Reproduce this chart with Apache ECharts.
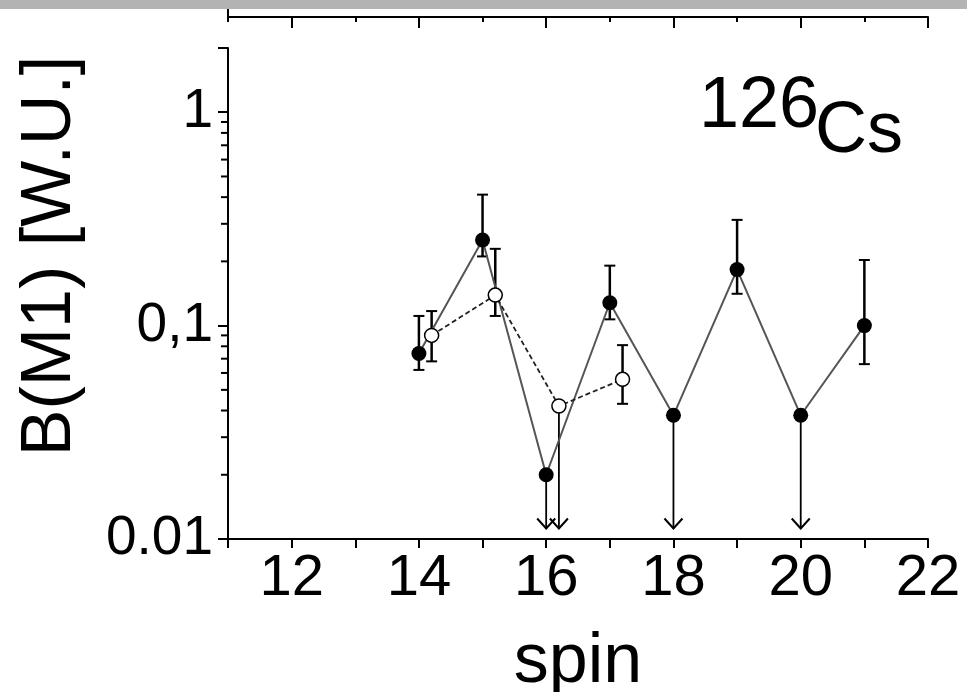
<!DOCTYPE html>
<html>
<head>
<meta charset="utf-8">
<style>
  html, body { margin: 0; padding: 0; background: #fff; }
  #chart { width: 967px; height: 692px; }
</style>
<script src="https://cdn.jsdelivr.net/npm/echarts@6/dist/echarts.min.js"></script>
</head>
<body>
<div id="chart"></div>
<script>
// ---- data ----
const spinFilled = [14, 15, 16, 17, 18, 19, 20, 21];
const bm1Filled  = [0.074, 0.252, 0.020, 0.128, 0.038, 0.183, 0.038, 0.100];
const errLowFilled  = [0.062, 0.211, null, 0.107, null, 0.141, null, 0.066];
const errHighFilled = [0.111, 0.411, null, 0.191, null, 0.313, null, 0.203];
const limitFilled   = [false, false, true, false, true, false, true, false];

const spinOpen = [14.2, 15.2, 16.2, 17.2];
const bm1Open  = [0.090, 0.139, 0.042, 0.056];
const errLowOpen  = [0.068, 0.111, null, 0.043];
const errHighOpen = [0.117, 0.229, null, 0.081];
const limitOpen   = [false, false, true, false];

const arrowTip = 0.0112;

const yTickValues = [0.01, 0.1, 1];
const yTickLabels = ['0.01', '0,1', '1'];
const yMinorTicks = [0.02, 0.03, 0.04, 0.05, 0.06, 0.07, 0.08, 0.09,
                     0.2, 0.3, 0.4, 0.5, 0.6, 0.7, 0.8, 0.9];
const xMin = 11, xMax = 22;

// ---- build series data ----
const FONT = "'Liberation Sans', Arial, sans-serif";
const filledPts = spinFilled.map((x, i) => [x, bm1Filled[i]]);
const openPts = spinOpen.map((x, i) => [x, bm1Open[i]]);

const errData = [];
const arrowData = [];
function collect(xs, ys, lo, hi, lim) {
  xs.forEach((x, i) => {
    if (lim[i]) arrowData.push([x, ys[i], arrowTip]);
    else errData.push([x, lo[i], hi[i]]);
  });
}
collect(spinFilled, bm1Filled, errLowFilled, errHighFilled, limitFilled);
collect(spinOpen, bm1Open, errLowOpen, errHighOpen, limitOpen);
const minorData = yMinorTicks.map(v => [xMin, v]);

function renderErr(params, api) {
  const x = api.value(0);
  const pLo = api.coord([x, api.value(1)]);
  const pHi = api.coord([x, api.value(2)]);
  const w = 5.5;
  return { type: 'group', children: [
    { type: 'line', shape: { x1: pLo[0], y1: pLo[1], x2: pHi[0], y2: pHi[1] }, style: { stroke: '#000', lineWidth: 2.5 } },
    { type: 'line', shape: { x1: pLo[0] - w, y1: pLo[1], x2: pLo[0] + w, y2: pLo[1] }, style: { stroke: '#000', lineWidth: 2 } },
    { type: 'line', shape: { x1: pHi[0] - w, y1: pHi[1], x2: pHi[0] + w, y2: pHi[1] }, style: { stroke: '#000', lineWidth: 2 } }
  ]};
}
function renderArrow(params, api) {
  const x = api.value(0);
  const p0 = api.coord([x, api.value(1)]);
  const p1 = api.coord([x, api.value(2)]);
  return { type: 'group', children: [
    { type: 'line', shape: { x1: p0[0], y1: p0[1], x2: p1[0], y2: p1[1] }, style: { stroke: '#000', lineWidth: 1.8 } },
    { type: 'polyline', shape: { points: [[p1[0] - 9, p1[1] - 10], [p1[0], p1[1]], [p1[0] + 9, p1[1] - 10]] },
      style: { stroke: '#000', lineWidth: 2, fill: null } }
  ]};
}
function renderMinor(params, api) {
  const p = api.coord([api.value(0), api.value(1)]);
  return { type: 'line', shape: { x1: p[0] - 7, y1: p[1], x2: p[0], y2: p[1] }, style: { stroke: '#000', lineWidth: 2 } };
}

const chart = echarts.init(document.getElementById('chart'), null, { renderer: 'canvas' });
const left = 228, width = 700;
const unit = width / (xMax - xMin);

chart.setOption({
  animation: false,
  backgroundColor: '#fff',
  grid: [
    { left: left, top: 48, width: width, height: 491, outerBoundsMode: 'none', containLabel: false },
    { left: left, top: 9, width: width, height: 8, outerBoundsMode: 'none', containLabel: false },
    { left: left + unit, top: 9, width: width - unit, height: 8, outerBoundsMode: 'none', containLabel: false }
  ],
  xAxis: [
    {
      gridIndex: 0, type: 'value', min: xMin, max: xMax, interval: 1,
      name: 'spin', nameLocation: 'middle', nameGap: 89,
      nameTextStyle: { fontFamily: FONT, fontSize: 70, color: '#000' },
      axisLine: { show: true, lineStyle: { color: '#000', width: 2 } },
      axisTick: { show: true, length: 9, lineStyle: { color: '#000', width: 2 } },
      axisLabel: { show: true, margin: 11, fontFamily: FONT, fontSize: 58, color: '#000',
        showMinLabel: true, showMaxLabel: true, hideOverlap: false,
        formatter: v => (Math.round(v) % 2 === 0 ? String(Math.round(v)) : '') },
      splitLine: { show: false }
    },
    {
      gridIndex: 1, type: 'value', min: xMin, max: xMax, interval: 1, position: 'bottom',
      axisLine: { show: true, lineStyle: { color: '#000', width: 2 } },
      axisTick: { show: true, length: 5, lineStyle: { color: '#000', width: 2 } },
      axisLabel: { show: false }, splitLine: { show: false }
    },
    {
      gridIndex: 2, type: 'value', min: 12, max: xMax, interval: 2, position: 'bottom',
      axisLine: { show: false },
      axisTick: { show: true, length: 11, lineStyle: { color: '#000', width: 2 } },
      axisLabel: { show: false }, splitLine: { show: false }
    }
  ],
  yAxis: [
    {
      gridIndex: 0, type: 'log', logBase: 10, min: 0.01, max: 2,
      name: 'B(M1) [W.U.]', nameLocation: 'middle', nameGap: 142, nameRotate: 90,
      nameTextStyle: { fontFamily: FONT, fontSize: 70, color: '#000', padding: [0, 0, 0, 75] },
      axisLine: { show: true, lineStyle: { color: '#000', width: 2 } },
      axisTick: { show: true, length: 10, lineStyle: { color: '#000', width: 2 } },
      axisLabel: { show: true, margin: 15, fontFamily: FONT, fontSize: 55, color: '#000',
        showMinLabel: true, showMaxLabel: true,
        formatter: function (v) {
          for (let i = 0; i < yTickValues.length; i++) {
            if (Math.abs(Math.log10(v) - Math.log10(yTickValues[i])) < 1e-6) return yTickLabels[i];
          }
          return '';
        } },
      splitLine: { show: false }
    },
    {
      gridIndex: 1, type: 'value', min: 0, max: 1,
      axisLine: { show: true, lineStyle: { color: '#000', width: 2 } },
      axisTick: { show: false }, axisLabel: { show: false }, splitLine: { show: false }
    },
    {
      gridIndex: 2, type: 'value', min: 0, max: 1, show: false
    }
  ],
  graphic: [
    { type: 'rect', left: 0, top: 0, shape: { x: 0, y: 0, width: 967, height: 9 }, style: { fill: '#b3b3b3' }, z: 100 },
    { type: 'text', x: 699, y: 107, style: { text: '126', font: '72px ' + FONT, fill: '#000', verticalAlign: 'middle' } },
    { type: 'text', x: 815, y: 132, style: { text: 'Cs', font: '72px ' + FONT, fill: '#000', verticalAlign: 'middle' } }
  ],
  series: [
    {
      type: 'custom', name: 'minorTicks', xAxisIndex: 0, yAxisIndex: 0, z: 1,
      renderItem: renderMinor, data: minorData, encode: { x: 0, y: 1 }, silent: true
    },
    {
      type: 'custom', name: 'errors', xAxisIndex: 0, yAxisIndex: 0, z: 1,
      renderItem: renderErr, data: errData, encode: { x: 0, y: [1, 2] }, silent: true
    },
    {
      type: 'custom', name: 'limits', xAxisIndex: 0, yAxisIndex: 0, z: 1,
      renderItem: renderArrow, data: arrowData, encode: { x: 0, y: [1, 2] }, silent: true
    },
    {
      type: 'line', name: 'filled', xAxisIndex: 0, yAxisIndex: 0, z: 3,
      data: filledPts, symbol: 'circle', symbolSize: 15,
      lineStyle: { color: '#555', width: 2 },
      itemStyle: { color: '#000', borderWidth: 0 },
      emphasis: { disabled: true }
    },
    {
      type: 'line', name: 'open', xAxisIndex: 0, yAxisIndex: 0, z: 3,
      data: openPts, symbol: 'circle', symbolSize: 14,
      lineStyle: { color: '#222', width: 1.8, type: [5, 3] },
      itemStyle: { color: '#fff', borderColor: '#000', borderWidth: 1.5 },
      emphasis: { disabled: true }
    }
  ]
});
</script>
</body>
</html>
